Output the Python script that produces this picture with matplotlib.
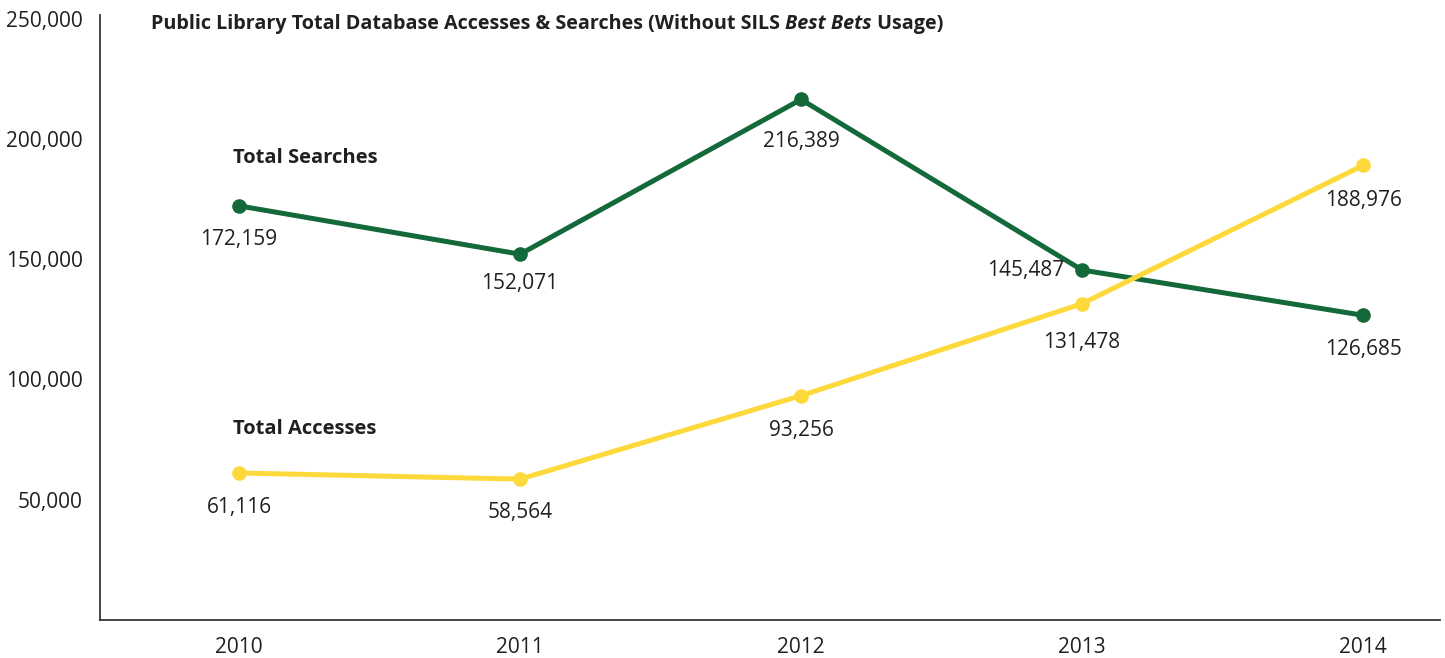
import matplotlib.pyplot as plt
from matplotlib.ticker import FuncFormatter

plt.rcParams['font.family'] = ['Open Sans', 'DejaVu Sans']

# data
years = [2010, 2011, 2012, 2013, 2014]
searches = [172159, 152071, 216389, 145487, 126685]
accesses = [61116, 58564, 93256, 131478, 188976]
y_ticks = [50000, 100000, 150000, 200000, 250000]

# label offsets (pixels) below each point
s_off = [(0, -34), (0, -29), (0, -42), (-18, 0), (0, -34)]
a_off = [(0, -35), (0, -33), (0, -35), (0, -39), (0, -35)]

green = '#14693a'
yellow = '#fdd93b'
txt = '#231f20'

fig = plt.figure(figsize=(14.45, 6.58), dpi=100)
ax = fig.add_axes([100/1445, 38/658, 1340/1445, 605/658])

ax.plot(years, searches, color=green, lw=3.6, marker='o', ms=9.5, solid_capstyle='round')
ax.plot(years, accesses, color=yellow, lw=3.6, marker='o', ms=9.5, solid_capstyle='round')

for x, v, off in zip(years, searches, s_off):
    ax.annotate(f'{v:,}', (x, v), xytext=off, textcoords='offset pixels',
                ha='right' if off[0] < 0 else 'center', va='center',
                fontsize=15, color=txt)
for x, v, off in zip(years, accesses, a_off):
    ax.annotate(f'{v:,}', (x, v), xytext=off, textcoords='offset pixels',
                ha='center', va='center', fontsize=15, color=txt)

ax.text(2009.978, 192000, 'Total Searches', fontsize=14.5, fontweight='bold', color=txt,
        ha='left', va='center')
ax.text(2009.978, 79500, 'Total Accesses', fontsize=14.5, fontweight='bold', color=txt,
        ha='left', va='center')

ax.set_xlim(2009.505, 2014.274)
ax.set_ylim(0, 251500)
ax.set_xticks(years)
ax.set_yticks(y_ticks)
ax.yaxis.set_major_formatter(FuncFormatter(lambda v, p: f'{int(v):,}'))
ax.tick_params(length=0, labelsize=15, labelcolor=txt)
ax.tick_params(axis='y', pad=12.5)
ax.tick_params(axis='x', pad=12)
for s in ['top', 'right']:
    ax.spines[s].set_visible(False)
for s in ['left', 'bottom']:
    ax.spines[s].set_color('#3a3638')
    ax.spines[s].set_linewidth(1.3)

# title in pieces: bold, bold italic, bold
fig.canvas.draw()
r = fig.canvas.get_renderer()
parts = [('Public Library Total Database Accesses & Searches (Without SILS ', 'normal'),
         ('Best Bets', 'italic'),
         (' Usage)', 'normal')]
xpix = 151
for s, st in parts:
    t = fig.text(xpix / 1445, 1 - 24 / 658, s, fontsize=14.2, fontweight='bold', style=st,
                 color=txt, ha='left', va='center')
    xpix = t.get_window_extent(r).x1

fig.savefig('out.png', dpi=100)
